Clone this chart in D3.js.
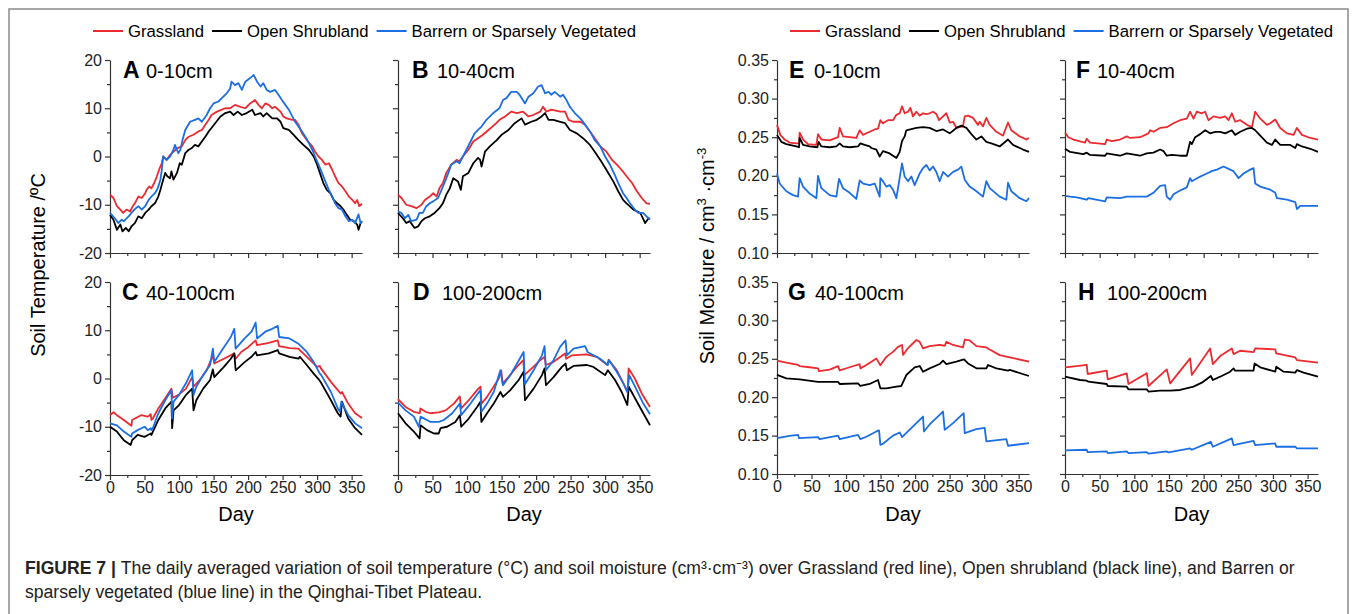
<!DOCTYPE html>
<html>
<head>
<meta charset="utf-8">
<script src="https://cdn.jsdelivr.net/npm/d3@7"></script>
<style>
  body { margin: 0; background: #fff; }
  svg { display: block; font-family: "Liberation Sans", Arial, sans-serif; }
</style>
</head>
<body>
<svg id="fig" width="1355" height="614"></svg>
<script>
// categories / labels
var seriesNames = ["Grassland", "Open Shrubland", "Barrern or Sparsely Vegetated"];
var dayTicks = [0, 50, 100, 150, 200, 250, 300, 350];
var dayMinor = [25, 75, 125, 175, 225, 275, 325];
var tempTicks = [-20, -10, 0, 10, 20];
var tempMinor = [-15, -5, 5, 15];
var moistTicks = [0.10, 0.15, 0.20, 0.25, 0.30, 0.35];
var moistMinor = [0.125, 0.175, 0.225, 0.275, 0.325];
var panelLetters = ["A", "B", "C", "D", "E", "F", "G", "H"];
var panelDepths = ["0-10cm", "10-40cm", "40-100cm", "100-200cm", "0-10cm", "10-40cm", "40-100cm", "100-200cm"];

// soil temperature (deg C), [day, value]
var tempA_grass = [[0,-7.9],[5,-8.6],[10,-10.3],[15,-11.0],[19,-11.7],[24,-11.0],[29,-11.4],[33,-10.3],[36,-9.7],[41,-8.3],[46,-8.6],[51,-7.6],[53,-6.9],[57,-6.2],[60,-6.6],[64,-5.5],[68,-4.1],[72,-2.4],[75,-1.4],[77,0],[82,-0.7],[87,0.3],[92,1.0],[97,1.7],[104,2.1],[109,3.4],[114,4.1],[121,4.5],[128,5.2],[133,5.5],[138,6.6],[143,7.6],[147,8.6],[155,9.3],[162,9.7],[167,10.0],[174,10.0],[181,10.7],[189,10.3],[196,10.0],[203,11.0],[210,11.7],[215,10.7],[220,10.0],[225,11.0],[230,10.7],[235,10.0],[239,10.3],[247,9.3],[251,8.3],[256,7.9],[264,7.6],[268,7.6],[273,6.6],[278,4.8],[285,3.4],[293,2.1],[297,1.0],[302,0],[307,-0.7],[312,-1.7],[317,-1.4],[322,-2.8],[326,-4.1],[331,-5.5],[336,-6.2],[341,-7.2],[346,-8.3],[351,-9.0],[355,-9.7],[358,-9.0],[361,-10.3],[365,-9.8]];
var tempA_shrub = [[0,-12.1],[5,-13.1],[10,-15.2],[15,-14.1],[18,-15.5],[23,-14.8],[27,-15.5],[31,-14.5],[36,-13.8],[41,-12.4],[46,-12.8],[51,-11.7],[56,-11.0],[60,-10.3],[65,-9.7],[70,-8.3],[73,-6.9],[77,-4.8],[80,-3.4],[83,-4.1],[87,-4.5],[89,-3.1],[92,-4.8],[97,-3.4],[101,-1.4],[104,-1.7],[109,0.7],[114,1.4],[118,1.7],[123,2.4],[128,2.1],[133,3.1],[138,4.1],[143,5.2],[147,5.9],[154,7.2],[160,8.3],[167,9.0],[174,9.3],[179,8.6],[185,9.3],[191,8.6],[198,9.0],[206,9.7],[210,8.6],[218,9.0],[222,8.3],[227,9.0],[235,7.9],[242,7.9],[247,7.2],[251,5.9],[259,5.5],[266,4.5],[273,3.4],[280,2.4],[288,1.4],[295,0],[300,-1.7],[305,-3.8],[309,-5.5],[314,-6.9],[319,-7.6],[324,-9.0],[329,-9.7],[334,-10.3],[338,-11.0],[343,-12.1],[348,-13.1],[353,-13.4],[358,-14.1],[360,-15.2],[363,-13.8],[365,-13.4]];
var tempA_barren = [[0,-11.7],[7,-12.8],[12,-13.8],[17,-13.1],[20,-13.4],[27,-12.4],[31,-11.7],[36,-10.9],[41,-10.3],[46,-11.0],[51,-10.3],[56,-9.0],[60,-8.3],[65,-7.6],[68,-6.9],[70,-6.2],[73,-4.8],[75,-2.8],[77,0],[82,-0.7],[87,0],[92,1.4],[94,2.4],[99,0.7],[102,1.4],[105,3.4],[109,5.5],[116,7.2],[123,7.6],[128,7.9],[133,7.2],[140,8.6],[145,10.0],[150,11.0],[157,11.4],[162,12.1],[169,13.1],[174,14.1],[176,15.5],[181,14.8],[186,15.2],[191,13.8],[196,15.5],[206,16.6],[208,16.9],[213,15.5],[218,14.5],[222,15.2],[227,13.8],[232,13.4],[239,13.8],[244,12.8],[249,11.7],[254,10.7],[259,9.7],[264,8.3],[268,7.2],[273,6.2],[278,5.2],[283,4.1],[288,2.8],[293,1.4],[297,0],[302,-1.7],[307,-3.4],[312,-5.2],[317,-6.9],[322,-8.3],[326,-9.7],[331,-10.7],[336,-11.0],[341,-12.4],[346,-13.4],[351,-13.1],[355,-13.8],[360,-12.0],[363,-13.8],[365,-13.4]];

var tempB_grass = [[0,-7.9],[5,-8.6],[12,-10.0],[19,-10.3],[27,-10.7],[34,-10.0],[39,-9.0],[46,-8.3],[51,-7.6],[56,-8.3],[60,-6.6],[65,-5.5],[70,-3.4],[77,-1.7],[85,-0.7],[89,-1.0],[94,0],[102,1.4],[109,3.1],[116,3.8],[123,4.5],[131,5.5],[140,6.6],[147,7.6],[155,8.3],[164,9.3],[172,9.0],[181,9.3],[189,8.3],[196,8.6],[206,9.3],[210,10.3],[215,9.3],[222,9.7],[235,9.3],[242,9.3],[247,7.6],[254,7.2],[264,7.2],[271,6.6],[278,5.2],[285,3.8],[293,2.1],[302,1.0],[310,-0.7],[317,-1.7],[324,-2.8],[331,-4.1],[339,-5.5],[346,-7.2],[353,-8.6],[360,-9.7],[365,-9.8]];
var tempB_shrub = [[0,-11.7],[7,-12.8],[12,-13.8],[17,-13.4],[24,-14.8],[29,-14.5],[34,-13.4],[39,-12.8],[46,-12.4],[53,-11.7],[60,-10.7],[65,-9.7],[70,-7.9],[75,-6.6],[80,-4.5],[87,-5.2],[91,-6.9],[94,-4.1],[102,-3.4],[109,-1.4],[116,-0.3],[119,-0.7],[121,-2.1],[126,1.0],[133,2.1],[143,3.4],[150,4.5],[160,5.5],[169,6.9],[179,7.9],[184,6.6],[193,7.2],[201,7.6],[208,8.3],[213,9.0],[218,7.6],[225,7.6],[235,7.2],[242,6.9],[249,5.5],[259,4.8],[268,3.8],[278,2.4],[285,1.0],[293,-0.7],[302,-2.8],[312,-5.2],[319,-7.2],[326,-9.0],[331,-9.7],[341,-11.0],[351,-11.7],[358,-13.8],[363,-12.8],[365,-12.9]];
var tempB_barren = [[0,-11.4],[5,-11.7],[10,-12.8],[15,-12.1],[19,-13.4],[27,-13.1],[31,-11.7],[36,-11.7],[41,-10.3],[46,-9.7],[51,-9.3],[58,-8.6],[63,-6.9],[68,-5.2],[73,-3.4],[77,-1.7],[85,-1.0],[89,-1.4],[94,0],[99,1.4],[104,2.8],[111,4.8],[116,5.5],[121,6.2],[128,7.6],[138,9.0],[147,10.0],[152,11.7],[157,12.1],[164,13.4],[172,13.4],[176,12.8],[184,11.0],[189,12.4],[196,13.1],[203,14.5],[208,14.8],[213,13.1],[218,13.4],[222,12.8],[227,13.4],[235,12.4],[239,12.8],[244,11.7],[249,10.3],[256,9.0],[264,7.9],[271,6.6],[278,5.2],[285,3.4],[293,2.1],[300,0],[307,-1.7],[314,-3.8],[319,-5.5],[326,-7.6],[331,-8.6],[336,-9.7],[343,-11.0],[348,-11.7],[355,-11.7],[360,-12.4],[365,-13.1]];

var tempC_grass = [[0,-7.6],[5,-7.0],[10,-7.6],[20,-8.6],[31,-9.8],[32,-8.6],[45,-7.6],[55,-7.9],[59,-7.4],[60,-8.6],[62,-8.3],[70,-6.2],[80,-4.1],[89,-2.1],[91,-4.0],[100,-3.3],[110,-2.1],[119,0.3],[121,-1.7],[130,-0.3],[140,1.7],[149,4.8],[151,3.1],[165,4.1],[180,5.2],[182,4.1],[190,5.5],[200,6.5],[211,7.9],[213,6.9],[230,7.4],[243,7.9],[245,6.7],[260,6.3],[273,6.2],[275,5.9],[290,3.8],[300,2.4],[304,2.6],[305,2.2],[320,-0.7],[330,-2.4],[334,-3.1],[336,-2.8],[345,-5.2],[355,-7.2],[365,-8.2]];
var tempC_shrub = [[0,-10.0],[10,-11.0],[20,-12.8],[30,-13.8],[32,-12.8],[40,-11.7],[50,-12.1],[55,-11.7],[59,-11.4],[60,-11.7],[70,-8.6],[80,-6.2],[89,-4.8],[90,-10.3],[92,-6.6],[100,-5.5],[110,-3.4],[119,-2.1],[121,-6.6],[125,-4.5],[135,-2.1],[145,-0.3],[149,1.9],[151,0.3],[165,2.4],[175,4.1],[180,5.2],[182,1.7],[195,3.4],[205,4.5],[211,5.5],[213,4.8],[230,5.2],[243,5.9],[245,5.2],[260,4.5],[273,4.1],[275,4.5],[285,2.8],[295,1.0],[303,-0.3],[305,-0.7],[320,-4.5],[330,-7.2],[334,-7.9],[336,-4.8],[345,-8.3],[355,-10.3],[365,-11.7]];
var tempC_barren = [[0,-9.3],[10,-9.7],[20,-11.0],[31,-12.1],[32,-11.4],[40,-10.7],[50,-10.0],[55,-10.7],[59,-10.3],[60,-10.7],[62,-10.3],[70,-7.2],[80,-4.5],[89,-2.4],[90,-8.3],[92,-4.8],[100,-3.4],[110,-1.0],[119,1.7],[121,-3.4],[125,-1.7],[135,0.7],[145,2.8],[149,6.2],[151,3.4],[165,6.5],[175,8.6],[180,10.3],[182,6.2],[195,8.3],[205,9.7],[211,11.6],[213,8.3],[225,9.7],[235,10.3],[243,10.9],[245,8.6],[260,8.3],[273,7.2],[275,6.9],[285,5.5],[295,3.4],[304,1.0],[306,0.7],[320,-2.8],[330,-6.2],[333,-6.9],[335,-4.8],[345,-7.6],[355,-9.3],[365,-10.3]];

var tempD_grass = [[0,-4.3],[11,-5.9],[23,-6.9],[31.5,-7.2],[32.5,-6.2],[40,-6.9],[47,-7.2],[59,-7.0],[61.5,-6.9],[69,-6.6],[81,-5.2],[89.5,-3.7],[91.5,-6.2],[102.5,-4.5],[114.5,-2.4],[119.5,-1.7],[121,-5.2],[129,-3.8],[138.5,-1.7],[146,0],[149.5,1.7],[151.5,-1.0],[160,0.3],[172,2.4],[181.5,3.8],[183,0.7],[196,2.4],[206,3.8],[212.5,4.5],[214,2.8],[225,3.4],[242,5.2],[243.5,4.1],[252,4.8],[273,5.0],[288,4.5],[297.5,3.4],[303.5,2.8],[305,3.9],[317,1.7],[326.5,-1.0],[332.5,-2.8],[334,2.1],[343,0],[353,-3.1],[365,-5.9]];
var tempD_shrub = [[0,-7.2],[11,-9.3],[23,-11.0],[31.3,-12.4],[32.7,-9.7],[42,-10.7],[52,-11.4],[59,-11.4],[61.6,-10.3],[71,-10.0],[83,-9.0],[89.6,-7.6],[91.5,-10.0],[102.5,-8.3],[114.6,-5.9],[119.4,-4.8],[120.8,-9.0],[129,-7.2],[138.7,-5.2],[148.3,-2.8],[152.1,-3.8],[162.7,-2.4],[174.8,-0.3],[182,1.4],[183.9,-4.5],[196.4,-2.1],[208.5,0.7],[212.3,2.1],[214.3,-1.4],[225.3,0.3],[237.4,2.4],[242.7,3.1],[244.6,1.7],[254.2,2.6],[273.5,2.8],[283,2.4],[300,0.7],[304,1.7],[314.4,-0.3],[324,-2.8],[332.2,-5.5],[334.2,-1.7],[343.3,-4.1],[355.3,-7.2],[365,-9.7]];
var tempD_barren = [[0,-5.0],[11,-6.6],[23,-7.9],[30.3,-10.0],[32.7,-7.9],[47.2,-9.0],[59.2,-9.0],[66.4,-8.6],[78.5,-7.2],[89.6,-5.2],[91.5,-7.6],[105,-5.2],[119.4,-2.4],[120.8,-6.9],[129,-5.2],[138.7,-2.8],[148.3,1.7],[152.1,-1.4],[162.7,0.7],[172.4,3.1],[182,5.5],[183.9,-1.2],[196.4,1.7],[208.5,4.8],[212.3,6.7],[214.3,1.7],[225.3,3.8],[235,6.6],[242.7,7.9],[244.6,4.8],[254.2,6.2],[271,6.7],[274.4,5.5],[292.7,4.1],[303.8,2.8],[305.7,3.8],[316.8,1.4],[326.4,-1.0],[332.2,-2.8],[335,0.7],[343.3,-1.7],[355.3,-5.2],[365,-7.4]];

// soil moisture (cm3 cm-3), [day, value]
var moistE_grass = [[0,0.266],[4.8,0.253],[11.1,0.247],[18.3,0.243],[28,0.242],[31.9,0.242],[32.8,0.256],[37.7,0.247],[44.9,0.241],[57,0.240],[59.4,0.254],[64.2,0.247],[76.3,0.246],[88.4,0.250],[90.8,0.262],[95.6,0.251],[105.3,0.250],[114.9,0.249],[119.7,0.259],[124.6,0.253],[134.2,0.257],[141.5,0.260],[146.3,0.261],[149.7,0.272],[153.5,0.268],[160.8,0.272],[168,0.272],[172.9,0.279],[177.7,0.281],[181.1,0.290],[184.9,0.281],[189.8,0.283],[193.1,0.288],[197,0.277],[201.8,0.283],[206.7,0.278],[211.5,0.281],[216.3,0.280],[221.1,0.281],[226,0.283],[230.8,0.280],[234.7,0.272],[240.5,0.277],[245.3,0.281],[250.2,0.269],[255,0.270],[259.8,0.262],[264.6,0.263],[269.4,0.264],[271.9,0.277],[276.7,0.278],[283.9,0.275],[291.2,0.266],[293.6,0.270],[298.4,0.264],[303.2,0.275],[308.1,0.266],[317.7,0.257],[327.4,0.252],[334.6,0.269],[339.4,0.259],[351.5,0.251],[361.2,0.247],[365,0.249]];
var moistE_shrub = [[0,0.253],[6.3,0.244],[13.5,0.241],[28,0.238],[31.9,0.237],[32.8,0.249],[37.7,0.240],[47.3,0.238],[58.4,0.237],[60.4,0.244],[64.2,0.238],[76.3,0.237],[86,0.238],[90.8,0.242],[95.6,0.238],[105.3,0.237],[117.3,0.238],[120.7,0.242],[127,0.240],[134.2,0.238],[136.6,0.236],[143.9,0.234],[148.7,0.225],[153.5,0.232],[163.2,0.229],[172.9,0.223],[177.7,0.231],[181.1,0.245],[184.9,0.251],[187.3,0.259],[201.8,0.262],[211.5,0.263],[221.1,0.262],[230.8,0.258],[240.5,0.260],[250.2,0.255],[259.8,0.262],[267,0.265],[274.3,0.262],[281.5,0.254],[288.8,0.247],[296,0.251],[303.2,0.244],[310.5,0.242],[322.5,0.238],[334.6,0.247],[341.9,0.240],[356.3,0.234],[365,0.231]];
var moistE_barren = [[0,0.203],[3.9,0.190],[13.5,0.180],[23.2,0.175],[30.4,0.173],[32.8,0.197],[37.7,0.186],[47.3,0.177],[57,0.171],[59.4,0.200],[64.2,0.184],[76.3,0.175],[86,0.173],[89.8,0.196],[95.6,0.184],[105.3,0.178],[114.9,0.170],[119.7,0.194],[124.6,0.190],[134.2,0.188],[141.5,0.190],[148.7,0.173],[149.7,0.197],[153.5,0.193],[158.4,0.186],[163.2,0.188],[168,0.182],[172.9,0.171],[181.1,0.216],[184.9,0.199],[189.8,0.193],[194.6,0.199],[199.4,0.188],[206.7,0.203],[211.5,0.210],[216.3,0.214],[221.1,0.207],[226,0.212],[230.8,0.205],[235.6,0.193],[240.5,0.205],[247.7,0.199],[255,0.205],[262.2,0.208],[267,0.212],[271.9,0.195],[279.1,0.186],[288.8,0.180],[298.4,0.173],[303.2,0.193],[308.1,0.184],[322.5,0.173],[332.2,0.169],[334.6,0.191],[339.4,0.180],[351.5,0.171],[361.2,0.167],[365,0.171]];

var moistF_grass = [[0,0.256],[4.8,0.250],[12,0.247],[28.9,0.243],[31.3,0.248],[36.1,0.243],[57.8,0.241],[60.2,0.247],[67.4,0.245],[79.4,0.247],[89.1,0.251],[93.9,0.249],[108.3,0.250],[120.4,0.255],[122.8,0.259],[127.6,0.257],[137.2,0.262],[146.8,0.263],[156.5,0.268],[166.1,0.272],[175.7,0.274],[180.5,0.283],[185.4,0.274],[190.2,0.283],[197.4,0.281],[202.2,0.283],[207,0.272],[214.3,0.277],[223.9,0.275],[231.1,0.277],[235.9,0.272],[240.7,0.281],[245.5,0.270],[252.8,0.272],[262.4,0.266],[269.6,0.263],[274.4,0.283],[281.7,0.274],[291.3,0.266],[296.1,0.268],[303.3,0.273],[310.5,0.262],[320.2,0.255],[329.8,0.253],[334.6,0.262],[341.8,0.253],[353.9,0.249],[365,0.247]];
var moistF_shrub = [[0,0.235],[7.2,0.231],[26.5,0.228],[31.3,0.230],[36.1,0.227],[57.8,0.226],[60.2,0.229],[79.4,0.226],[89.1,0.229],[108.3,0.226],[118,0.229],[127.6,0.230],[137.2,0.234],[142,0.232],[146.8,0.226],[154.1,0.227],[166.1,0.226],[175.7,0.226],[180.5,0.244],[183,0.241],[187.8,0.250],[195,0.254],[202.2,0.259],[209.4,0.255],[216.7,0.257],[223.9,0.257],[231.1,0.255],[240.7,0.259],[245.5,0.253],[252.8,0.257],[262.4,0.261],[269.6,0.262],[274.4,0.259],[281.7,0.252],[291.3,0.243],[298.5,0.240],[303.3,0.247],[310.5,0.240],[325,0.240],[332.2,0.236],[334.6,0.241],[341.8,0.238],[353.9,0.235],[365,0.231]];
var moistF_barren = [[0,0.174],[7.2,0.173],[16.9,0.172],[31.3,0.169],[33.7,0.171],[57.8,0.167],[60.2,0.172],[79.4,0.171],[89.1,0.173],[118,0.173],[127.6,0.178],[137.2,0.187],[144.4,0.188],[146.8,0.173],[151.7,0.169],[156.5,0.176],[166.1,0.181],[175.7,0.185],[180.5,0.197],[183,0.193],[195,0.199],[204.6,0.203],[211.8,0.206],[219.1,0.208],[228.7,0.212],[235.9,0.209],[243.1,0.206],[250.4,0.197],[257.6,0.203],[267.2,0.208],[272,0.210],[274.4,0.190],[281.7,0.186],[296.1,0.182],[303.3,0.178],[305.7,0.171],[320.2,0.169],[332.2,0.166],[334.6,0.157],[339.4,0.161],[365,0.161]];

var moistG_grass = [[0,0.2475],[13.5,0.245],[30.4,0.242],[32.8,0.2405],[47.3,0.239],[59.4,0.2375],[60.8,0.234],[76.3,0.236],[88.4,0.2405],[90.8,0.235],[105.3,0.239],[119.7,0.243],[120.7,0.2375],[129.4,0.242],[143.9,0.2505],[149.7,0.2415],[158.4,0.2525],[168,0.259],[175.3,0.2655],[181.1,0.268],[182.5,0.255],[189.8,0.264],[201.8,0.2745],[206.7,0.272],[211.5,0.2635],[221.1,0.2665],[235.6,0.268],[242.9,0.267],[245.3,0.272],[255,0.268],[269.4,0.2648],[271.9,0.275],[279.1,0.274],[288.8,0.2665],[303.2,0.2648],[308.1,0.262],[322.5,0.2548],[337,0.252],[365,0.2462]];
var moistG_shrub = [[0,0.229],[13.5,0.2246],[32.8,0.2233],[59.4,0.220],[88.4,0.220],[90.8,0.2172],[117.3,0.218],[120.7,0.2146],[134.2,0.2172],[146.3,0.2224],[149.7,0.2116],[158.4,0.2116],[172.9,0.2137],[180.1,0.2146],[187.3,0.2289],[199.4,0.2389],[206.7,0.2406],[211.5,0.2332],[221.1,0.2375],[235.6,0.2432],[240.5,0.2475],[245.3,0.2432],[259.8,0.2462],[270.9,0.2492],[276.7,0.2440],[288.8,0.2376],[303.2,0.2376],[305.6,0.2419],[317.7,0.2376],[334.6,0.2345],[337,0.2355],[365,0.2276]];
var moistG_barren = [[0,0.1467],[18.3,0.1497],[30.4,0.1510],[31.9,0.1467],[59.4,0.148],[61.8,0.1454],[88.4,0.150],[90.8,0.1454],[117.3,0.151],[120.7,0.1454],[129.4,0.1485],[143.9,0.1554],[147.8,0.1567],[149.7,0.138],[153.5,0.1393],[168,0.150],[177.7,0.1541],[181.1,0.148],[197,0.1619],[211.5,0.1748],[212.9,0.1554],[221.1,0.1645],[240.5,0.1813],[242.9,0.1575],[255,0.1662],[270.4,0.1792],[271.9,0.1532],[288.8,0.1584],[300.8,0.160],[303.2,0.1424],[332.2,0.1454],[334.6,0.1368],[365,0.1402]];

var moistH_grass = [[0,0.2388],[16.9,0.2405],[31.3,0.242],[32.7,0.2302],[60.2,0.2345],[61.6,0.2233],[89.1,0.2311],[91.5,0.2172],[118,0.2311],[120.4,0.2146],[146.8,0.2362],[151.7,0.218],[180.5,0.2505],[183,0.2289],[209.4,0.2635],[213.3,0.2432],[223.9,0.2535],[240.7,0.2635],[243.1,0.2561],[252.8,0.2605],[272,0.2588],[274.4,0.2635],[303.3,0.2622],[304.8,0.257],[332.2,0.2518],[334.6,0.2484],[365,0.2449]];
var moistH_shrub = [[0,0.2267],[21.7,0.2224],[31.3,0.2215],[33.7,0.2202],[60.2,0.2172],[61.6,0.2146],[89.1,0.2137],[91.5,0.2103],[118,0.2103],[120.4,0.2073],[137.2,0.2086],[151.7,0.2086],[166.1,0.2094],[185.4,0.2137],[197.4,0.2189],[210.4,0.2276],[213.3,0.2224],[223.9,0.2267],[238.3,0.2332],[243.1,0.2375],[245.5,0.2345],[272,0.2345],[273.5,0.244],[281.7,0.2389],[303.3,0.2332],[304.8,0.2397],[315.4,0.2332],[332.2,0.2319],[334.6,0.2353],[344.2,0.2319],[365,0.2267]];
var moistH_barren = [[0,0.1307],[31.3,0.1316],[32.7,0.1285],[60.2,0.1294],[61.6,0.1272],[89.1,0.1294],[91.5,0.1272],[118,0.1285],[120.4,0.1264],[146.8,0.1294],[149.3,0.1281],[180.5,0.1333],[183,0.1316],[210.4,0.1419],[213.3,0.1355],[240.7,0.1463],[243.1,0.1376],[272,0.1432],[274.4,0.1376],[303.3,0.1398],[304.8,0.1355],[332.2,0.1355],[334.6,0.1333],[365,0.1333]];

var lineColors = ["#ec2a30", "#000000", "#1b6ee3"];
var svg = d3.select("#fig");

// outer frame
svg.append("path")
  .attr("d", "M9,640 L9,9 L1348,9 L1348,640")
  .attr("fill", "none")
  .attr("stroke", "#8a8a8a")
  .attr("stroke-width", 1.5);

function fmtTemp(d) { return String(d); }
function fmtMoist(d) { return d.toFixed(2); }

var panels = [
  { x0: 110, x1: 362, y0: 60, y1: 253, kind: "t", yLab: true, xLab: false, data: [tempA_grass, tempA_shrub, tempA_barren], lx: 123, ldx: 23 },
  { x0: 398, x1: 650, y0: 60, y1: 253, kind: "t", yLab: false, xLab: false, data: [tempB_grass, tempB_shrub, tempB_barren], lx: 412, ldx: 25 },
  { x0: 110, x1: 362, y0: 282, y1: 475, kind: "t", yLab: true, xLab: true, data: [tempC_grass, tempC_shrub, tempC_barren], lx: 122, ldx: 24 },
  { x0: 398, x1: 650, y0: 282, y1: 475, kind: "t", yLab: false, xLab: true, data: [tempD_grass, tempD_shrub, tempD_barren], lx: 413, ldx: 29 },
  { x0: 777, x1: 1029, y0: 60, y1: 253, kind: "m", yLab: true, xLab: false, data: [moistE_grass, moistE_shrub, moistE_barren], lx: 789, ldx: 25 },
  { x0: 1065, x1: 1318, y0: 60, y1: 253, kind: "m", yLab: false, xLab: false, data: [moistF_grass, moistF_shrub, moistF_barren], lx: 1076, ldx: 21 },
  { x0: 777, x1: 1029, y0: 282, y1: 474, kind: "m", yLab: true, xLab: true, data: [moistG_grass, moistG_shrub, moistG_barren], lx: 788, ldx: 27 },
  { x0: 1065, x1: 1318, y0: 282, y1: 474, kind: "m", yLab: false, xLab: true, data: [moistH_grass, moistH_shrub, moistH_barren], lx: 1078, ldx: 29 }
];

function drawPanel(p, i) {
  var x = d3.scaleLinear().domain([0, 365]).range([p.x0, p.x1]);
  var y = p.kind == "t"
    ? d3.scaleLinear().domain([-20, 20]).range([p.y1, p.y0])
    : d3.scaleLinear().domain([0.10, 0.35]).range([p.y1, p.y0]);
  var g = svg.append("g");

  // minor ticks first
  g.append("g")
    .attr("transform", "translate(" + p.x0 + ",0)")
    .call(d3.axisLeft(y).tickValues(p.kind == "t" ? tempMinor : moistMinor).tickSize(3).tickFormat(""))
    .call(function(s) { s.select(".domain").remove(); });
  g.append("g")
    .attr("transform", "translate(0," + p.y1 + ")")
    .call(d3.axisBottom(x).tickValues(dayMinor).tickSize(3).tickFormat(""))
    .call(function(s) { s.select(".domain").remove(); });

  var yAxis = d3.axisLeft(y)
    .tickValues(p.kind == "t" ? tempTicks : moistTicks)
    .tickSizeInner(5).tickSizeOuter(0).tickPadding(3)
    .tickFormat(p.yLab ? (p.kind == "t" ? fmtTemp : fmtMoist) : "");
  g.append("g")
    .attr("class", "yax")
    .attr("transform", "translate(" + p.x0 + ",0)")
    .call(yAxis);

  var xAxis = d3.axisBottom(x)
    .tickValues(dayTicks)
    .tickSizeInner(5).tickSizeOuter(0).tickPadding(2)
    .tickFormat(p.xLab ? function(d) { return d; } : "");
  g.append("g")
    .attr("class", "xax")
    .attr("transform", "translate(0," + p.y1 + ")")
    .call(xAxis);

  g.selectAll(".domain, .tick line").attr("stroke", "#333").attr("stroke-width", 1.2);
  g.selectAll(".tick text").attr("font-size", 16).attr("fill", "#222")
    .attr("font-family", "'Liberation Sans', Arial, sans-serif");

  var line = d3.line()
    .x(function(d) { return x(d[0]); })
    .y(function(d) { return y(d[1]); });

  p.data.forEach(function(ser, k) {
    g.append("path")
      .datum(ser)
      .attr("d", line)
      .attr("fill", "none")
      .attr("stroke", lineColors[k])
      .attr("stroke-width", 1.8)
      .attr("stroke-linejoin", "round");
  });

  // panel label
  var lab = g.append("text")
    .attr("x", p.lx)
    .attr("y", p.y0 + 18)
    .attr("fill", "#000");
  lab.append("tspan").attr("font-weight", "bold").attr("font-size", 23).text(panelLetters[i]);
  lab.append("tspan").attr("x", p.lx + p.ldx).attr("font-size", 20).text(panelDepths[i]);

  if (p.xLab) {
    g.append("text")
      .attr("x", (p.x0 + p.x1) / 2)
      .attr("y", 521)
      .attr("text-anchor", "middle")
      .attr("font-size", 20)
      .text("Day");
  }
}

panels.forEach(drawPanel);

// axis titles
svg.append("text")
  .attr("transform", "translate(45,265) rotate(-90)")
  .attr("text-anchor", "middle")
  .attr("font-size", 20)
  .text("Soil Temperature /ºC");

var mt = svg.append("text")
  .attr("transform", "translate(714,256) rotate(-90)")
  .attr("text-anchor", "middle")
  .attr("font-size", 20);
mt.append("tspan").text("Soil Moisture / cm");
mt.append("tspan").attr("font-size", 13).attr("dy", -8).text("3");
mt.append("tspan").attr("dy", 8).text(" \u00b7cm");
mt.append("tspan").attr("font-size", 13).attr("dy", -8).text("-3");

// legends
function drawLegend(startX, yMid) {
  var cx = startX;
  var lg = svg.append("g");
  seriesNames.forEach(function(name, k) {
    lg.append("line")
      .attr("x1", cx).attr("x2", cx + 30)
      .attr("y1", yMid).attr("y2", yMid)
      .attr("stroke", lineColors[k]).attr("stroke-width", 2);
    var t = lg.append("text")
      .attr("x", cx + 35).attr("y", yMid + 6)
      .attr("font-size", 16.7)
      .text(name);
    cx = cx + 35 + t.node().getComputedTextLength() + 8;
  });
}
drawLegend(93, 31);
drawLegend(790, 31);

// caption
var cap1 = svg.append("text").attr("x", 25).attr("y", 574).attr("font-size", 17.6).attr("fill", "#222");
cap1.append("tspan").attr("font-weight", "bold").text("FIGURE 7 | ");
cap1.append("tspan").text("The daily averaged variation of soil temperature (\u00b0C) and soil moisture (cm\u00b3\u00b7cm\u207b\u00b3) over Grassland (red line), Open shrubland (black line), and Barren or");
svg.append("text").attr("x", 25).attr("y", 598).attr("font-size", 17.6).attr("fill", "#222")
  .text("sparsely vegetated (blue line) in the Qinghai-Tibet Plateau.");
</script>
</body>
</html>
